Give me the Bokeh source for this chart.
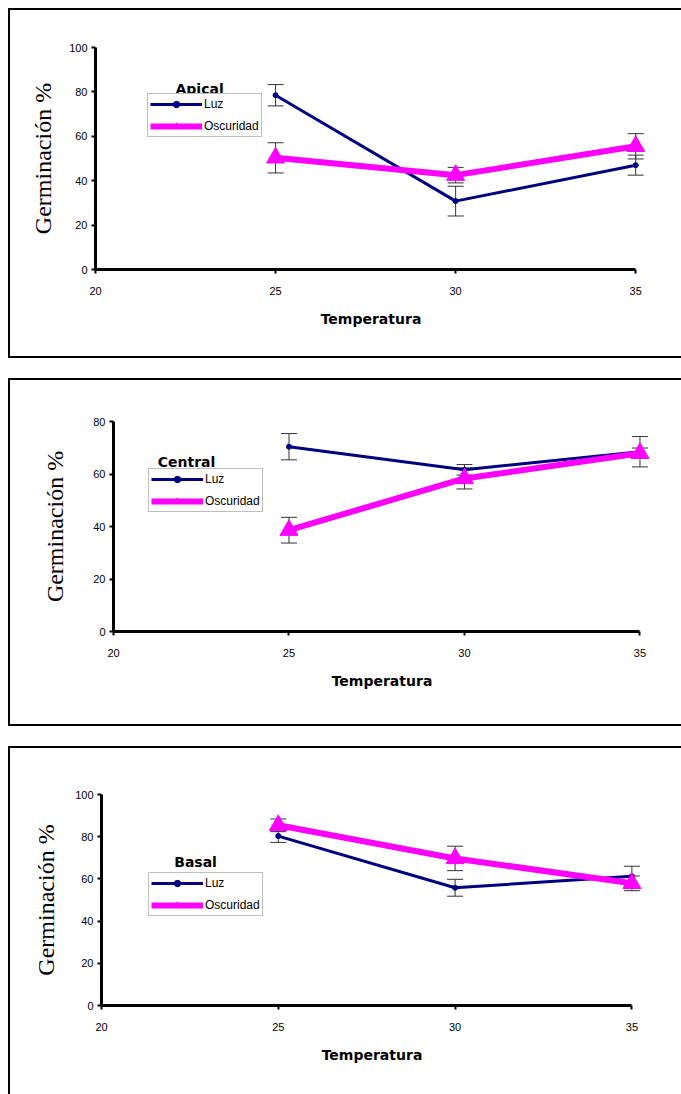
from bokeh.plotting import figure
from bokeh.models import (Range1d, FixedTicker, Legend, LegendItem, Whisker,
                          TeeHead, ColumnDataSource, Label, Spacer)
from bokeh.layouts import column, row
from bokeh.embed import file_html
from bokeh.resources import INLINE

# ---------------- data ----------------
temperatures = [25, 30, 35]
x_ticks = [20, 25, 30, 35]

apical_luz = [78.5, 30.8, 47.0]
apical_luz_err = [4.8, 6.7, 4.5]
apical_osc = [50.3, 42.5, 55.5]
apical_osc_err = [6.8, 3.5, 5.7]

central_luz = [70.4, 61.6, 68.5]
central_luz_err = [5.0, 2.0, 5.8]
central_osc = [38.6, 58.3, 67.9]
central_osc_err = [4.9, 4.0, 2.0]

basal_luz = [80.3, 55.8, 61.3]
basal_luz_err = [3.0, 4.0, 4.7]
basal_osc = [85.4, 69.7, 57.9]
basal_osc_err = [3.0, 5.8, 3.5]

y_ticks_100 = [0, 20, 40, 60, 80, 100]
y_ticks_80 = [0, 20, 40, 60, 80]

series_labels = ["Luz", "Oscuridad"]
x_label = "Temperatura"
y_label = "Germinación %"

NAVY = "#000080"
MAGENTA = "#FF00FF"
ERR = "#333333"


def make_panel(name, luz, luz_err, osc, osc_err, ymax, yticks, height,
               mb_left, mb_top, mb_bottom, mb_right, ylabel_standoff,
               legend_loc, title_pos, styles):
    p = figure(width=673, height=height, output_backend="svg",
               toolbar_location=None, x_range=Range1d(20, 35.3),
               y_range=Range1d(0, ymax), min_border_left=mb_left,
               min_border_top=mb_top, min_border_bottom=mb_bottom,
               min_border_right=mb_right, styles=styles)
    p.frame_align = False
    p.outline_line_color = None
    p.grid.visible = False
    p.background_fill_color = "white"
    p.border_fill_color = "white"

    for ax in (p.xaxis[0], p.yaxis[0]):
        ax.axis_line_width = 3
        ax.axis_line_color = "black"
        ax.major_tick_line_width = 2
        ax.major_tick_line_color = "black"
        ax.major_tick_in = 0
        ax.major_tick_out = 4
        ax.minor_tick_line_color = None
        ax.major_label_text_font = "Liberation Sans"
        ax.major_label_text_font_size = "11px"
        ax.major_label_text_color = "black"
        ax.axis_label_text_color = "black"

    p.xaxis.ticker = FixedTicker(ticks=x_ticks)
    p.yaxis.ticker = FixedTicker(ticks=yticks)
    p.xaxis.bounds = (20, 35)
    p.yaxis.bounds = (0, ymax)
    p.xaxis.major_label_standoff = 13
    p.yaxis.major_label_standoff = 4

    p.xaxis.axis_label = x_label
    p.xaxis.axis_label_text_font = "DejaVu Sans"
    p.xaxis.axis_label_text_font_style = "bold"
    p.xaxis.axis_label_text_font_size = "14px"
    p.xaxis.axis_label_standoff = 13

    p.yaxis.axis_label = y_label
    p.yaxis.axis_label_text_font = "Liberation Serif"
    p.yaxis.axis_label_text_font_style = "normal"
    p.yaxis.axis_label_text_font_size = "24px"
    p.yaxis.axis_label_standoff = ylabel_standoff

    # error bars
    for vals, errs in ((luz, luz_err), (osc, osc_err)):
        src = ColumnDataSource(dict(
            x=temperatures,
            upper=[v + e for v, e in zip(vals, errs)],
            lower=[v - e for v, e in zip(vals, errs)]))
        w = Whisker(source=src, base="x", upper="upper", lower="lower",
                    line_color=ERR, line_width=1,
                    upper_head=TeeHead(size=16, line_color=ERR, line_width=1),
                    lower_head=TeeHead(size=16, line_color=ERR, line_width=1))
        p.add_layout(w)

    luz_line = p.line(temperatures, luz, line_color=NAVY, line_width=3)
    luz_pts = p.scatter(temperatures, luz, marker="circle", size=5,
                        color=NAVY)
    osc_line = p.line(temperatures, osc, line_color=MAGENTA, line_width=6)
    osc_pts = p.scatter(temperatures, osc, marker="triangle", size=18,
                        color=MAGENTA)

    legend = Legend(items=[
        LegendItem(label=series_labels[0], renderers=[luz_line, luz_pts]),
        LegendItem(label=series_labels[1], renderers=[osc_line, osc_pts])],
        location=legend_loc, border_line_color="#808080",
        border_line_width=1, padding=2, spacing=6, margin=0,
        glyph_width=52, glyph_height=16, label_height=16, label_standoff=2,
        label_text_font="Liberation Sans", label_text_font_size="12px",
        label_text_color="black",
        background_fill_color="white", background_fill_alpha=1)
    p.add_layout(legend)

    p.add_layout(Label(x=title_pos[0], y=title_pos[1], text=name,
                       text_font="DejaVu Sans", text_font_style="bold",
                       text_font_size="14px", text_align="center",
                       text_baseline="middle", text_color="black",
                       level="overlay"))
    return p


border = "2px solid #000"
full = {"border-top": border, "border-left": border, "border-bottom": border}
p1 = make_panel("Apical", apical_luz, apical_luz_err, apical_osc,
                apical_osc_err, 100, y_ticks_100, 350,
                85, 37, 91, 37, 10, (52, 132), (22.89, 81.1), full)
p2 = make_panel("Central", central_luz, central_luz_err, central_osc,
                central_osc_err, 80, y_ticks_80, 348,
                103, 41, 97, 33, 22, (35, 119), (22.08, 64.4), full)
p3 = make_panel("Basal", basal_luz, basal_luz_err, basal_osc,
                basal_osc_err, 100, y_ticks_100, 348,
                91, 46, 91, 41, 13, (47, 89), (22.66, 67.8),
                {"border-top": border, "border-left": border})

layout = row(Spacer(width=8),
             column(Spacer(height=8), p1, Spacer(height=20), p2,
                    Spacer(height=20), p3))

open("out.html", "w").write(file_html(layout, INLINE))
